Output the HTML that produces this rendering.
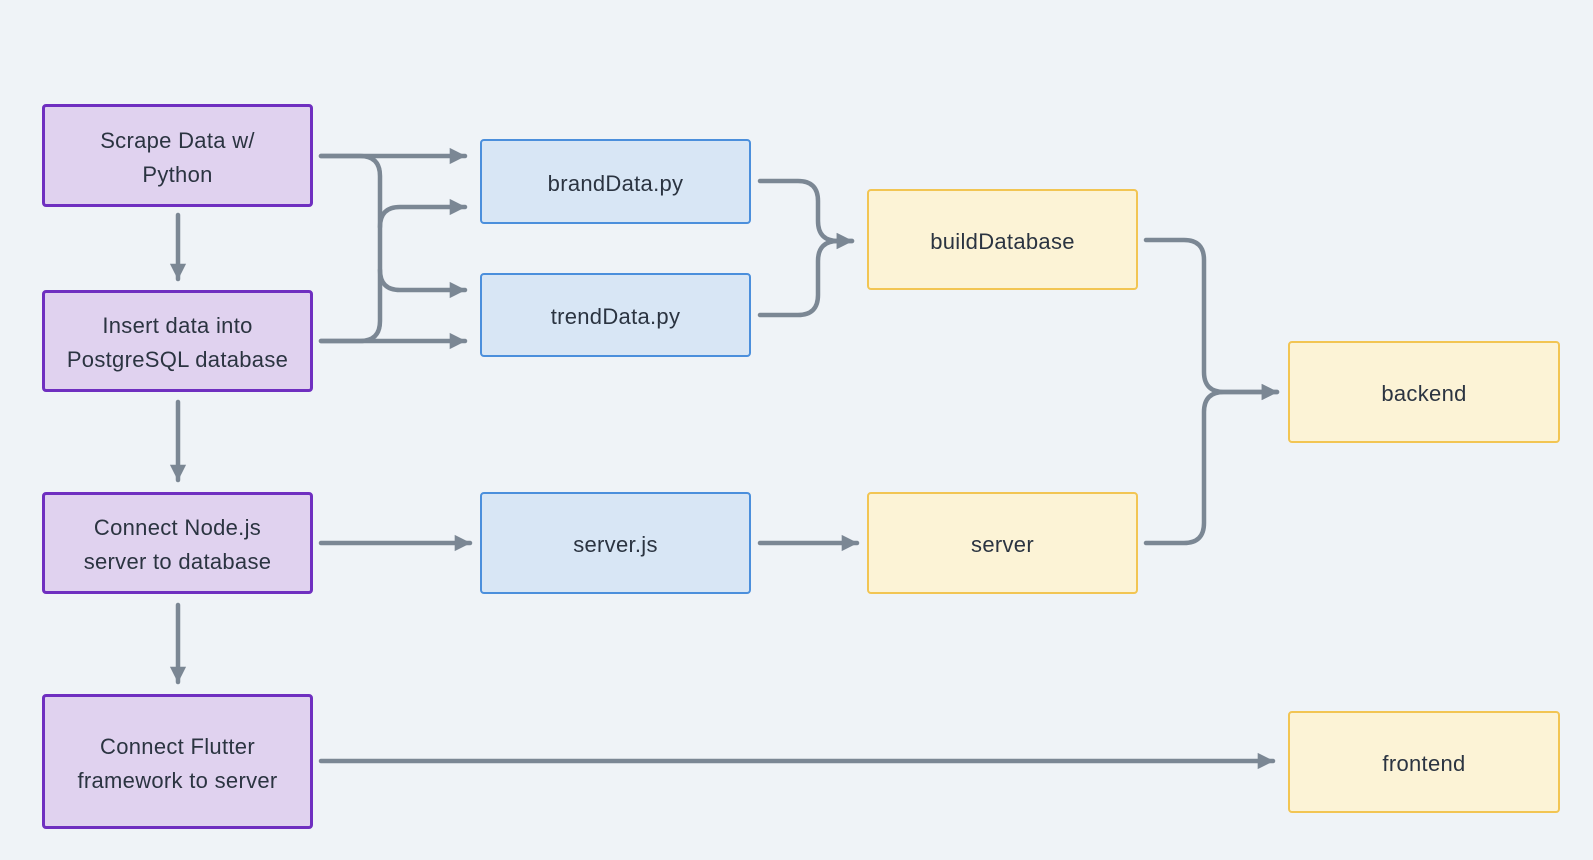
<!DOCTYPE html>
<html><head><meta charset="utf-8"><style>
body{margin:0;background:#eff3f7;width:1593px;height:860px;overflow:hidden;position:relative;font-family:"Liberation Sans",sans-serif}
.b{position:absolute;box-sizing:border-box;border-radius:4px;display:flex;align-items:center;justify-content:center;text-align:center;font-size:22px;line-height:34px;color:#2b3441;padding-top:4px;letter-spacing:0.3px}
.p{background:#e0d2ef;border:3px solid #6f2fc0}
.u{background:#d8e6f5;border:2.5px solid #4b8fdc}
.y{background:#fcf3d6;border:2.5px solid #f2c553}
svg{position:absolute;left:0;top:0}
</style></head><body>
<svg width="1593" height="860">
<defs><marker id="a" markerWidth="4" markerHeight="4" refX="3.4" refY="2" orient="auto" markerUnits="strokeWidth"><path d="M0,0.2 L3.6,2 L0,3.8 z" fill="#7b8794"/></marker></defs>
<g fill="none" stroke="#7b8794" stroke-width="4.5" stroke-linecap="round">
<path d="M321,156 H360 Q380,156 380,176 V321 Q380,341 360,341 H321"/>
</g>
<g fill="none" stroke="#7b8794" stroke-width="4.5" stroke-linecap="round" marker-end="url(#a)">
<path d="M321,156 H465"/>
<path d="M380,227 Q380,207 400,207 H465"/>
<path d="M380,270 Q380,290 400,290 H465"/>
<path d="M321,341 H465"/>
<path d="M178,215 V279"/>
<path d="M178,402 V480"/>
<path d="M178,605 V682"/>
<path d="M321,543 H470"/>
<path d="M760,543 H857"/>
<path d="M321,761 H1273"/>
<path d="M760,181 H798 Q818,181 818,201 V221 Q818,241 838,241 H852"/>
<path d="M760,315 H798 Q818,315 818,295 V261 Q818,241 838,241 H852"/>
<path d="M1146,240 H1184 Q1204,240 1204,260 V372 Q1204,392 1224,392 H1277"/>
<path d="M1146,543 H1184 Q1204,543 1204,523 V412 Q1204,392 1224,392 H1277"/>
</g>
</svg>
<div class="b p" style="left:42px;top:104px;width:271px;height:103px">Scrape Data w/<br>Python</div>
<div class="b p" style="left:42px;top:290px;width:271px;height:102px">Insert data into<br>PostgreSQL database</div>
<div class="b p" style="left:42px;top:492px;width:271px;height:102px">Connect Node.js<br>server to database</div>
<div class="b p" style="left:42px;top:694px;width:271px;height:135px">Connect Flutter<br>framework to server</div>
<div class="b u" style="left:480px;top:139px;width:271px;height:85px">brandData.py</div>
<div class="b u" style="left:480px;top:273px;width:271px;height:84px">trendData.py</div>
<div class="b u" style="left:480px;top:492px;width:271px;height:102px">server.js</div>
<div class="b y" style="left:867px;top:189px;width:271px;height:101px">buildDatabase</div>
<div class="b y" style="left:867px;top:492px;width:271px;height:102px">server</div>
<div class="b y" style="left:1288px;top:341px;width:272px;height:102px">backend</div>
<div class="b y" style="left:1288px;top:711px;width:272px;height:102px">frontend</div>
</body></html>
